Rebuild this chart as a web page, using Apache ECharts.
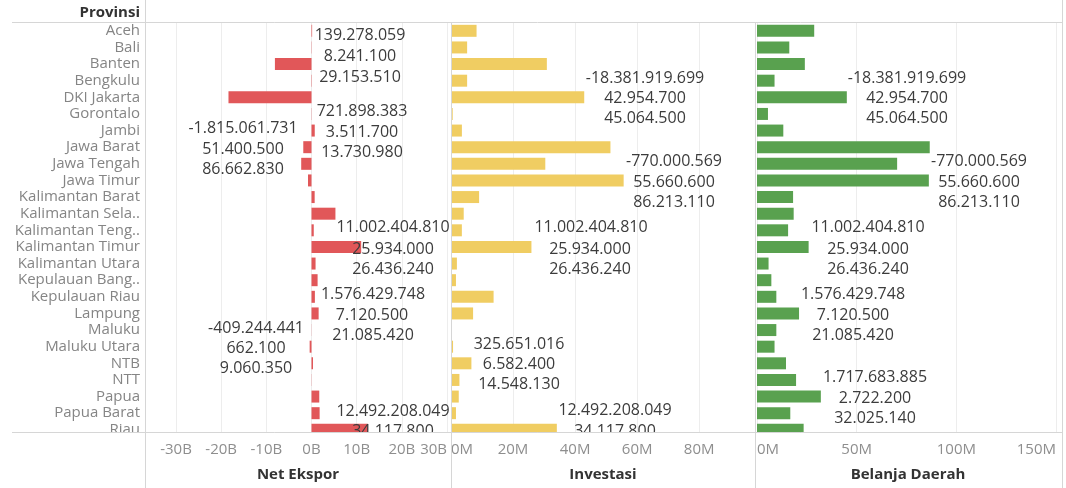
<!DOCTYPE html>
<html>
<head>
<meta charset="utf-8">
<script src="https://cdn.jsdelivr.net/npm/echarts@6/dist/echarts.min.js"></script>
<style>
html,body{margin:0;padding:0;background:#fff;}
#chart{width:1066px;height:488px;}
</style>
</head>
<body>
<div id="chart"></div>
<script>
// ---- data ----
const provinces = ['Aceh','Bali','Banten','Bengkulu','DKI Jakarta','Gorontalo','Jambi','Jawa Barat','Jawa Tengah','Jawa Timur','Kalimantan Barat','Kalimantan Sela..','Kalimantan Teng..','Kalimantan Timur','Kalimantan Utara','Kepulauan Bang..','Kepulauan Riau','Lampung','Maluku','Maluku Utara','NTB','NTT','Papua','Papua Barat','Riau'];
const netEkspor = [0.139e9, 0.06e9, -8.1e9, 0.08e9, -18.38e9, 0.05e9, 0.72e9, -1.82e9, -2.28e9, -0.77e9, 0.7e9, 5.3e9, 0.5e9, 11.0e9, 0.9e9, 1.35e9, 0.75e9, 1.58e9, 0.03e9, -0.41e9, 0.33e9, 0.04e9, 1.72e9, 1.8e9, 12.49e9];
const investasi = [8.24e6, 5.2e6, 30.9e6, 5.2e6, 42.95e6, 0.55e6, 3.51e6, 51.4e6, 30.4e6, 55.66e6, 9.06e6, 4.1e6, 3.5e6, 25.93e6, 1.9e6, 1.6e6, 13.73e6, 7.12e6, 0.3e6, 0.66e6, 6.58e6, 2.72e6, 2.5e6, 1.6e6, 34.12e6];
const belanjaDaerah = [28.7e6, 16.2e6, 24.0e6, 8.8e6, 45.06e6, 5.5e6, 13.2e6, 86.66e6, 70.3e6, 86.21e6, 18.1e6, 18.4e6, 15.6e6, 25.9e6, 5.8e6, 7.2e6, 9.7e6, 21.09e6, 9.7e6, 8.8e6, 14.55e6, 19.6e6, 32.03e6, 16.7e6, 23.4e6];
const panelTitles = ['Net Ekspor', 'Investasi', 'Belanja Daerah'];
const rowHeader = 'Provinsi';

// overlaid value texts (as they appear on the dashboard)
const netEksporNotes = ['139.278.059','8.241.100','29.153.510','721.898.383','-1.815.061.731','3.511.700','51.400.500','13.730.980','86.662.830','11.002.404.810','25.934.000','26.436.240','1.576.429.748','7.120.500','-409.244.441','21.085.420','662.100','9.060.350','12.492.208.049','34.117.800'];
const investasiNotes = ['-18.381.919.699','42.954.700','45.064.500','-770.000.569','55.660.600','86.213.110','11.002.404.810','25.934.000','26.436.240','325.651.016','6.582.400','14.548.130','12.492.208.049','34.117.800'];
const belanjaNotes = ['-18.381.919.699','42.954.700','45.064.500','-770.000.569','55.660.600','86.213.110','11.002.404.810','25.934.000','26.436.240','1.576.429.748','7.120.500','21.085.420','1.717.683.885','2.722.200','32.025.140'];

// ---- layout (pixel positions of the overlaid texts) ----
const netEksporNotePos = [[360,35],[360,56],[360,77],[362,111],[243,128],[362,132],[243,149],[362,152],[243,169],[393,227],[393,249],[393,269],[373,294],[372,315],[256,328],[373,335],[256,348],[256,368],[393,411],[393,431]];
const investasiNotePos = [[645,78],[645,98],[645,118],[674,161],[674,182],[674,202],[591,227],[590,249],[590,269],[519,344],[519,364],[519,384],[615,410],[615,431]];
const belanjaNotePos = [[907,78],[907,98],[907,118],[979,161],[979,182],[979,202],[868,227],[868,249],[868,269],[853,294],[853,315],[853,335],[875,377],[875,398],[875,418]];

const FONT = 'Open Sans';
const ROW_H = 16.625;
const TOP = 22.5;
const H = ROW_H * provinces.length;

const gridDefs = [
  {left: 176, width: 271},
  {left: 451, width: 304},
  {left: 757, width: 299}
];

const gridLineColor = '#ededed';
const tickColor = '#8e8e8e';

function xAxisDef(i, min, max, interval, fmt, opts) {
  return Object.assign({
    type: 'value', gridIndex: i, min: min, max: max, interval: interval,
    axisLine: {show: false}, axisTick: {show: false},
    splitLine: {show: true, lineStyle: {color: gridLineColor, width: 1}},
    axisLabel: {color: tickColor, fontFamily: FONT, fontSize: 15, margin: 4, formatter: fmt}
  }, opts || {});
}

const billions = v => (v / 1e9) + 'B';
const millions = v => (v / 1e6) + 'M';

const xAxes = [
  xAxisDef(0, -30e9, 30e9, 10e9, billions),
  xAxisDef(1, 0, 98e6, 20e6, millions),
  xAxisDef(2, 0, 150e6, 50e6, millions)
];
xAxes[0].axisLabel.alignMaxLabel = 'right';
xAxes[1].axisLabel.alignMinLabel = 'left';
xAxes[1].axisLabel.showMaxLabel = false;
xAxes[2].axisLabel.alignMinLabel = 'left';
xAxes[2].axisLabel.alignMaxLabel = 'right';

const yAxes = [0,1,2].map(i => ({
  type: 'category', gridIndex: i, data: provinces, inverse: true,
  axisLine: {show: false}, axisTick: {show: false}, splitLine: {show: false},
  axisLabel: i === 0 ? {show: true, color: '#858585', fontFamily: FONT, fontSize: 15, margin: 36, interval: 0, padding: [4, 0, 0, 0]} : {show: false}
}));

const colors = ['#e15759', '#f0cd62', '#59a14f'];
const seriesData = [netEkspor, investasi, belanjaDaerah];
const series = seriesData.map((d, i) => ({
  type: 'bar', xAxisIndex: i, yAxisIndex: i, data: d, barWidth: 12,
  itemStyle: {color: colors[i]}, silent: true
}));

const graphics = [];
function addNotes(texts, pos) {
  texts.forEach((t, k) => {
    graphics.push({type: 'text', z: 50, x: pos[k][0], y: pos[k][1],
      style: {text: t, fill: '#3c3c3c', font: '16px "Open Sans"', textAlign: 'center', textVerticalAlign: 'middle'}});
  });
}
addNotes(netEksporNotes, netEksporNotePos);
addNotes(investasiNotes, investasiNotePos);
addNotes(belanjaNotes, belanjaNotePos);

// mask under the scrolled row area
graphics.push({type: 'rect', z: 60, shape: {x: 0, y: 432.5, width: 1066, height: 9}, style: {fill: '#ffffff'}});
// frame lines
const lineColor = '#d6d6d6';
function line(x1, y1, x2, y2) {
  graphics.push({type: 'line', z: 70, shape: {x1: x1, y1: y1, x2: x2, y2: y2}, style: {stroke: lineColor, lineWidth: 1}});
}
line(12, 22.5, 1063, 22.5);
line(12, 432.5, 1063, 432.5);
line(145.5, 0, 145.5, 488);
line(451.5, 22.5, 451.5, 488);
line(755.5, 22.5, 755.5, 488);
line(1062.5, 0, 1062.5, 488);

// headers
graphics.push({type: 'text', z: 70, x: 140, y: 13, style: {text: rowHeader, fill: '#333', font: 'bold 15px "Open Sans"', textAlign: 'right', textVerticalAlign: 'middle'}});
const titleX = [298, 603, 908];
panelTitles.forEach((t, i) => {
  graphics.push({type: 'text', z: 70, x: titleX[i], y: 475, style: {text: t, fill: '#333', font: 'bold 15px "Open Sans"', textAlign: 'center', textVerticalAlign: 'middle'}});
});

const chart = echarts.init(document.getElementById('chart'), null, {renderer: 'canvas'});
chart.setOption({
  animation: false,
  backgroundColor: '#ffffff',
  grid: gridDefs.map(g => ({left: g.left, width: g.width, top: TOP, height: H, containLabel: false})),
  xAxis: xAxes,
  yAxis: yAxes,
  series: series,
  graphic: {elements: graphics}
});
</script>
</body>
</html>
